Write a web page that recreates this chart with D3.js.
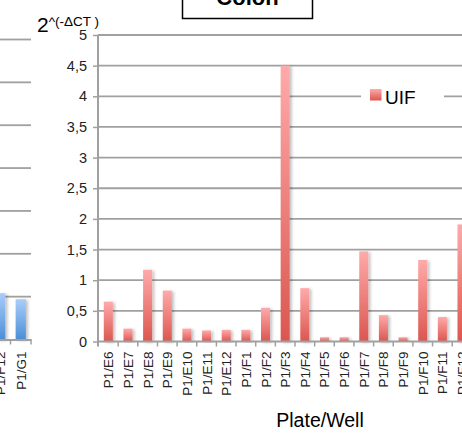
<!DOCTYPE html>
<html>
<head>
<meta charset="utf-8">
<script src="https://cdn.jsdelivr.net/npm/d3@7"></script>
<style>
  html, body { margin: 0; padding: 0; background: #fff; }
  svg { display: block; }
  text { font-family: "Liberation Sans", Arial, sans-serif; }
</style>
</head>
<body>
<svg id="chart" width="462" height="439"></svg>
<script>
// Colon panel: relative expression per well
const wells = ["P1/E6","P1/E7","P1/E8","P1/E9","P1/E10","P1/E11","P1/E12","P1/F1","P1/F2","P1/F3",
               "P1/F4","P1/F5","P1/F6","P1/F7","P1/F8","P1/F9","P1/F10","P1/F11","P1/F12"];
const uifValues = [0.65,0.21,1.17,0.83,0.21,0.18,0.19,0.19,0.55,4.5,
                   0.87,0.07,0.07,1.47,0.43,0.07,1.33,0.40,1.91];
const yTicks = [0,0.5,1,1.5,2,2.5,3,3.5,4,4.5,5];
const seriesName = "UIF";

// Neighbouring panel (right edge only)
const prevWells = ["P1/F12","P1/G1"];
const prevValues = [0.54,0.47];
const prevTicks = [0,0.5,1,1.5,2,2.5,3,3.5];

const svg = d3.select("#chart");
const defs = svg.append("defs");

const redGrad = defs.append("linearGradient").attr("id","redGrad")
  .attr("x1",0).attr("y1",0).attr("x2",0).attr("y2",1);
redGrad.append("stop").attr("offset","0%").attr("stop-color","#ffaaaa");
redGrad.append("stop").attr("offset","100%").attr("stop-color","#db564f");

const blueGrad = defs.append("linearGradient").attr("id","blueGrad")
  .attr("x1",0).attr("y1",0).attr("x2",0).attr("y2",1);
blueGrad.append("stop").attr("offset","0%").attr("stop-color","#a9cdfb");
blueGrad.append("stop").attr("offset","100%").attr("stop-color","#4b8fd6");

const shadow = defs.append("filter").attr("id","shadow")
  .attr("x","-50%").attr("y","-10%").attr("width","200%").attr("height","120%");
shadow.append("feDropShadow").attr("dx",2).attr("dy",1).attr("stdDeviation",1.4)
  .attr("flood-color","#000").attr("flood-opacity",0.25);

const gridColor = "#a0a0a0";

// ---------- neighbouring panel ----------
const px = d3.scaleBand().domain(prevWells).range([-10, 31]).paddingInner(0.5).paddingOuter(0.25);
const py = d3.scaleLinear().domain([0,3.5]).range([339.5, 39.5]);

svg.append("g").selectAll("line").data(prevTicks.slice(1)).join("line")
  .attr("x1",0).attr("x2",31)
  .attr("y1",d=>py(d)).attr("y2",d=>py(d))
  .attr("stroke",gridColor).attr("stroke-width",1.8);

svg.append("g").selectAll("rect").data(prevValues).join("rect")
  .attr("x",(d,i)=>px(prevWells[i]))
  .attr("width",px.bandwidth())
  .attr("y",d=>py(d))
  .attr("height",d=>py(0)-py(d))
  .attr("fill","url(#blueGrad)")
  .attr("filter","url(#shadow)");

const pAxis = svg.append("g").attr("transform",`translate(0,${py(0)})`)
  .call(d3.axisBottom(px).tickSize(0).tickFormat(""));
pAxis.select(".domain").attr("stroke",gridColor).attr("stroke-width",1.8);
pAxis.selectAll(".tick").remove();
svg.append("g").selectAll("line").data([10.5,31]).join("line")
  .attr("x1",d=>d).attr("x2",d=>d)
  .attr("y1",py(0)).attr("y2",py(0)+5)
  .attr("stroke",gridColor).attr("stroke-width",1.5);

svg.append("g").selectAll("text").data(prevWells).join("text")
  .attr("transform",d=>`translate(${px(d)+px.bandwidth()/2+5},${py(0)+12}) rotate(-90)`)
  .attr("text-anchor","end")
  .attr("font-size",13.5)
  .attr("fill","#222")
  .text(d=>d);

// ---------- main panel ----------
const x = d3.scaleBand().domain(wells).range([98.5, 98.5 + 19*19.65])
  .paddingInner(0.54).paddingOuter(0.27);
const y = d3.scaleLinear().domain([0,5]).range([341.5, 35]);

// gridlines
svg.append("g").selectAll("line").data(yTicks.slice(1)).join("line")
  .attr("x1",98).attr("x2",462)
  .attr("y1",d=>y(d)).attr("y2",d=>y(d))
  .attr("stroke",gridColor).attr("stroke-width",1.8);

// y axis
const yAxis = svg.append("g").attr("transform","translate(98,0)")
  .call(d3.axisLeft(y).tickValues(yTicks).tickSize(5).tickPadding(6)
    .tickFormat(d=>String(d).replace(".",",")));
yAxis.select(".domain").attr("stroke",gridColor).attr("stroke-width",2)
  .attr("d",`M0,${y(5)}V${y(0)+5}`);
yAxis.selectAll(".tick line").attr("stroke",gridColor).attr("stroke-width",1.5);
yAxis.selectAll(".tick text").attr("font-size",14.5).attr("fill","#222")
  .attr("font-family","Lato, 'Liberation Sans', sans-serif");

// bars
svg.append("g").selectAll("rect").data(uifValues).join("rect")
  .attr("x",(d,i)=>x(wells[i]))
  .attr("width",x.bandwidth())
  .attr("y",d=>y(d))
  .attr("height",d=>y(0)-y(d))
  .attr("fill","url(#redGrad)")
  .attr("filter","url(#shadow)");

// x axis
const xAxis = svg.append("g").attr("transform",`translate(0,${y(0)})`)
  .call(d3.axisBottom(x).tickSize(0).tickFormat(""));
xAxis.select(".domain").attr("stroke",gridColor).attr("stroke-width",2)
  .attr("d",`M98,0H462`);
xAxis.selectAll(".tick").remove();
svg.append("g").selectAll("line").data(wells.map((w,i)=>i)).join("line")
  .attr("x1",i=>x(wells[i]) - x.step()*x.paddingInner()/2 + x.step())
  .attr("x2",i=>x(wells[i]) - x.step()*x.paddingInner()/2 + x.step())
  .attr("y1",y(0)).attr("y2",y(0)+5)
  .attr("stroke",gridColor).attr("stroke-width",1.5);

svg.append("g").selectAll("text").data(wells).join("text")
  .attr("transform",d=>`translate(${x(d)+x.bandwidth()/2+5},${y(0)+10}) rotate(-90)`)
  .attr("text-anchor","end")
  .attr("font-size",13.5)
  .attr("fill","#222")
  .text(d=>d);

// y axis title
const yt = svg.append("text").attr("x",37).attr("y",32).attr("fill","#000");
yt.append("tspan").attr("font-size",21).text("2");
yt.append("tspan").attr("font-size",13.5).attr("dy",-6).text("^(-ΔCT )");

// x axis title
svg.append("text").attr("x",320).attr("y",427).attr("text-anchor","middle")
  .attr("font-size",19.5).attr("fill","#000").text("Plate/Well");

// panel title box
svg.append("rect").attr("x",182.5).attr("y",-30).attr("width",130).attr("height",48.5)
  .attr("fill","#fff").attr("stroke","#000").attr("stroke-width",1.5);
svg.append("text").attr("x",247.5).attr("y",5).attr("text-anchor","middle")
  .attr("font-size",22).attr("font-weight","bold").attr("fill","#000").text("Colon");

// legend
const lg = svg.append("g");
lg.append("rect").attr("x",361).attr("y",82).attr("width",83).attr("height",30).attr("fill","#fff");
lg.append("rect").attr("x",370).attr("y",89).attr("width",11.5).attr("height",11.5)
  .attr("fill","url(#redGrad)");
lg.append("text").attr("x",385).attr("y",104).attr("font-size",19).attr("fill","#000")
  .text(seriesName);
</script>
</body>
</html>
